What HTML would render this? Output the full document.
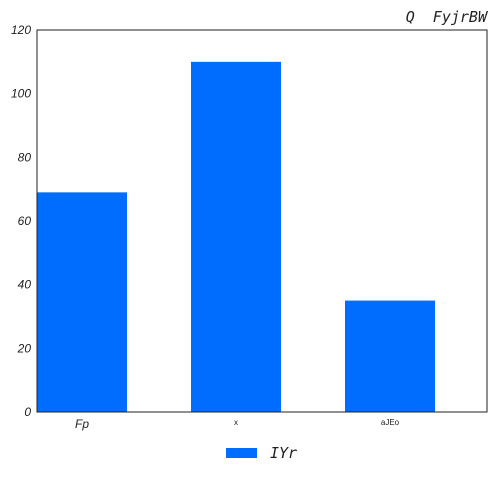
<!DOCTYPE html>
<html><head><meta charset="utf-8"><style>
html,body{margin:0;padding:0;background:#fff;width:496px;height:496px;overflow:hidden}
</style></head><body>
<svg id="chart" width="496" height="496" xmlns="http://www.w3.org/2000/svg">
<text x="487" y="22" text-anchor="end" font-family="'DejaVu Sans Mono','Liberation Mono',monospace" font-style="italic" font-size="15" fill="#222" xml:space="preserve">Q  FyjrBW</text>
<g id="bars"></g>
<g id="yaxis"></g>
<g id="xaxis"></g>
<rect x="37" y="30" width="450" height="382" fill="none" stroke="#222" stroke-width="1"/>
<g>
<rect x="226" y="448" width="31" height="10" fill="#006dff"/>
<text x="270" y="458" font-family="'DejaVu Sans Mono','Liberation Mono',monospace" font-style="italic" font-size="15" fill="#222">IYr</text>
</g>
</svg>
<script>
const categories = ["Fp", "x", "aJEo"];
const values = [69, 110, 35];
const yTicks = [0, 20, 40, 60, 80, 100, 120];
const labelSizes = [12, 8, 8];
const labelStyles = ["italic", "normal", "normal"];

const NS = "http://www.w3.org/2000/svg";
const L = 37, R = 487, T = 30, B = 412, yMax = 120;
const y = v => B - (v / yMax) * (B - T);
const step = 154, barW = 90;
const xc = i => L + barW / 2 + i * step;

const bars = document.getElementById('bars');
values.forEach((v, i) => {
  const r = document.createElementNS(NS, 'rect');
  r.setAttribute('x', xc(i) - barW / 2);
  r.setAttribute('y', y(v));
  r.setAttribute('width', barW);
  r.setAttribute('height', B - y(v));
  r.setAttribute('fill', '#006dff');
  
  
  bars.appendChild(r);
});
const ya = document.getElementById('yaxis');
yTicks.forEach(t => {
  const tx = document.createElementNS(NS, 'text');
  tx.setAttribute('x', 31);
  tx.setAttribute('y', y(t) + 4);
  tx.setAttribute('text-anchor', 'end');
  tx.setAttribute('font-family', "'Liberation Sans',sans-serif");
  tx.setAttribute('font-style', 'italic');
  tx.setAttribute('font-size', '12');
  tx.setAttribute('fill', '#222');
  tx.textContent = t;
  
  
  ya.appendChild(tx);
});
const xa = document.getElementById('xaxis');
categories.forEach((c, i) => {
  const tx = document.createElementNS(NS, 'text');
  tx.setAttribute('x', xc(i));
  tx.setAttribute('y', labelSizes[i] > 10 ? 428 : 425);
  tx.setAttribute('text-anchor', 'middle');
  tx.setAttribute('font-family', "'Liberation Sans',sans-serif");
  tx.setAttribute('font-style', labelStyles[i]);
  tx.setAttribute('font-size', labelSizes[i]);
  tx.setAttribute('fill', '#222');
  tx.textContent = c;
  
  
  xa.appendChild(tx);
});
</script>
</body></html>
